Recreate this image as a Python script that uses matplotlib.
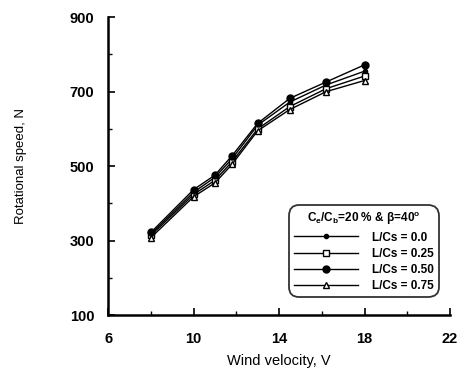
import matplotlib
matplotlib.use("Agg")
import matplotlib.pyplot as plt
from matplotlib.ticker import MultipleLocator

plt.rcParams['font.family'] = ['Liberation Sans', 'DejaVu Sans']
plt.rcParams['mathtext.fontset'] = 'custom'
plt.rcParams['mathtext.rm'] = 'Liberation Sans:bold'
plt.rcParams['mathtext.it'] = 'Liberation Sans:bold'
plt.rcParams['mathtext.bf'] = 'Liberation Sans:bold'

wind_velocity = [8, 10, 11, 11.8, 13, 14.5, 16.2, 18]
n_lcs_000 = [318, 430, 470, 520, 610, 672, 718, 755]
n_lcs_025 = [314, 424, 462, 512, 600, 660, 708, 742]
n_lcs_050 = [322, 437, 476, 528, 615, 682, 726, 772]
n_lcs_075 = [308, 418, 455, 505, 595, 652, 700, 730]
series_labels = ['L/Cs = 0.0', 'L/Cs = 0.25', 'L/Cs = 0.50', 'L/Cs = 0.75']
x_ticks = [6, 10, 14, 18, 22]
y_ticks = [100, 300, 500, 700, 900]

fig = plt.figure(figsize=(4.62, 3.82), dpi=100)
ax = fig.add_axes([0.234, 0.175, 0.740, 0.780])

styles = [
    dict(marker='o', markersize=3, markerfacecolor='black', markeredgecolor='black'),
    dict(marker='s', markersize=4.5, markerfacecolor='white', markeredgecolor='black'),
    dict(marker='o', markersize=5, markerfacecolor='black', markeredgecolor='black'),
    dict(marker='^', markersize=4, markerfacecolor='white', markeredgecolor='black'),
]
for vals, lab, st in zip([n_lcs_000, n_lcs_025, n_lcs_050, n_lcs_075], series_labels, styles):
    ax.plot(wind_velocity, vals, color='black', linewidth=1.0, label=lab, **st)

ax.set_xlim(6, 22)
ax.set_ylim(100, 900)
ax.set_xticks(x_ticks)
ax.set_yticks(y_ticks)
ax.xaxis.set_minor_locator(MultipleLocator(2))
ax.yaxis.set_minor_locator(MultipleLocator(100))
ax.tick_params(which='both', direction='in', labelsize=10.5)
ax.tick_params(which='major', length=5, width=1.2)
ax.tick_params(which='minor', length=3, width=1.0)
ax.tick_params(axis='x', pad=12)
ax.tick_params(axis='y', pad=10)
for lbl in ax.get_xticklabels() + ax.get_yticklabels():
    lbl.set_fontweight('bold')

for s in ['top', 'right']:
    ax.spines[s].set_visible(False)
for s in ['left', 'bottom']:
    ax.spines[s].set_linewidth(1.8)

ax.set_xlabel('Wind velocity, V', fontsize=10.5, labelpad=6)
ax.set_ylabel('Rotational speed, N', fontsize=9.5, labelpad=31)

leg = ax.legend(title='C$_e$/C$_b$=20 % & $\\beta$=40$^o$', loc='lower right',
                bbox_to_anchor=(0.985, 0.04), fancybox=True, frameon=True,
                edgecolor='black', handlelength=5.4, fontsize=8.5,
                title_fontsize=8.5, borderpad=0.45, labelspacing=0.35,
                handletextpad=1.2)
leg.get_frame().set_linewidth(1.3)
leg.get_frame().set_boxstyle('round', pad=0, rounding_size=0.9)
leg.get_title().set_fontweight('bold')
for t in leg.get_texts():
    t.set_fontweight('bold')

fig.savefig('out.png', dpi=100)
